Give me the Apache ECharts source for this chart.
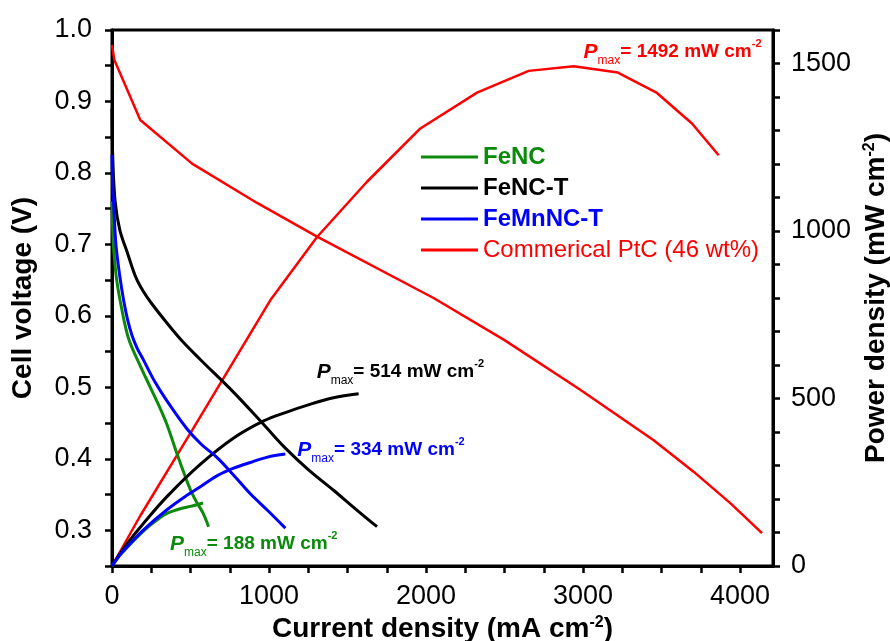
<!DOCTYPE html>
<html>
<head>
<meta charset="utf-8">
<script src="https://cdn.jsdelivr.net/npm/echarts@6/dist/echarts.min.js"></script>
<style>
  html, body { margin: 0; padding: 0; background: #fff; }
  #chart { width: 890px; height: 641px; }
</style>
</head>
<body>
<div id="chart"></div>
<script>
// Polarisation (cell voltage) and power-density curves of H2/O2 fuel cells.

// Axis ticks and labels
const currentTicks = [0, 250, 500, 750, 1000, 1250, 1500, 1750, 2000, 2250, 2500, 2750, 3000, 3250, 3500, 3750, 4000];
const currentLabels = [0, 1000, 2000, 3000, 4000];
const voltageTicks = [0.25, 0.3, 0.35, 0.4, 0.45, 0.5, 0.55, 0.6, 0.65, 0.7, 0.75, 0.8, 0.85, 0.9, 0.95, 1.0];
const voltageLabels = [0.3, 0.4, 0.5, 0.6, 0.7, 0.8, 0.9, 1.0];
const powerTicks = [0, 100, 200, 300, 400, 500, 600, 700, 800, 900, 1000, 1100, 1200, 1300, 1400, 1500, 1600];
const powerLabels = [0, 500, 1000, 1500];

// FeNC
const fencCurrentV = [0, 5, 12, 30, 60, 106, 180, 244, 308, 350, 414, 460, 499, 540, 580, 615];
const fencVoltage = [0.76, 0.72, 0.69, 0.65, 0.612, 0.568, 0.53, 0.5, 0.47, 0.448, 0.407, 0.379, 0.357, 0.339, 0.324, 0.305];
const fencCurrentP = [0, 30, 60, 106, 180, 244, 308, 350, 414, 460, 499, 540, 580];
const fencPower = [0, 20, 37, 60, 95, 122, 145, 157, 168, 174, 178, 183, 188];

// FeNC-T
const fenctCurrentV = [0, 5, 20, 50, 100, 150, 200, 250, 350, 450, 562, 775, 966, 1104, 1250, 1411, 1550, 1688];
const fenctVoltage = [0.89, 0.82, 0.76, 0.72, 0.687, 0.655, 0.634, 0.618, 0.59, 0.564, 0.539, 0.493, 0.448, 0.415, 0.385, 0.356, 0.33, 0.305];
const fenctCurrentP = [0, 50, 100, 200, 350, 562, 775, 966, 1104, 1250, 1411, 1571];
const fenctPower = [0, 36, 69, 127, 207, 303, 382, 433, 458, 481, 502, 514];

// FeMnNC-T
const femnCurrentV = [0, 5, 12, 25, 50, 74, 100, 127, 160, 201, 275, 350, 477, 570, 668, 775, 881, 990, 1104];
const femnVoltage = [0.825, 0.78, 0.75, 0.7, 0.655, 0.622, 0.594, 0.573, 0.555, 0.538, 0.507, 0.481, 0.442, 0.42, 0.402, 0.377, 0.351, 0.328, 0.303];
const femnCurrentP = [0, 50, 100, 201, 350, 477, 570, 668, 775, 881, 990, 1104];
const femnPower = [0, 33, 59, 108, 168, 211, 239, 269, 292, 309, 325, 334];

// Commercial Pt/C (46 wt%)
const ptcCurrentV = [0, 15, 180, 510, 924, 1306, 2048, 2500, 2980, 3450, 3704, 3938, 4140];
const ptcVoltage = [0.979, 0.958, 0.874, 0.813, 0.758, 0.711, 0.625, 0.566, 0.497, 0.426, 0.382, 0.338, 0.296];
const ptcCurrentP = [0, 180, 510, 1008, 1306, 1624, 1964, 2325, 2654, 2940, 3222, 3471, 3694, 3864];
const ptcPower = [0, 150, 405, 793, 982, 1147, 1306, 1413, 1478, 1492, 1473, 1412, 1321, 1226];

const FONT = '"Liberation Sans", Arial, sans-serif';
const GREEN = '#0c8a0c', BLACK = '#000000', BLUE = '#0000ff', RED = '#ff0000';

const zip = (xs, ys) => xs.map((x, i) => [x, ys[i]]);

// Pmax annotation placed next to the maximum of a power series
function pmaxMark(xs, ys, color, offset) {
  let k = 0;
  ys.forEach((v, i) => { if (v > ys[k]) k = i; });
  return {
    silent: true,
    symbol: 'circle',
    symbolSize: 0,
    data: [{ coord: [xs[k], ys[k]] }],
    label: {
      show: true,
      position: 'right',
      distance: 0,
      offset: offset,
      formatter: '{p|P}{s|max}{t|= ' + ys[k] + ' mW cm}{u|-2}',
      rich: {
        p: { fontFamily: FONT, fontSize: 21, fontWeight: 'bold', fontStyle: 'italic', color: color, verticalAlign: 'middle' },
        s: { fontFamily: FONT, fontSize: 12, color: color, verticalAlign: 'bottom', padding: [0, 0, -4, 0] },
        t: { fontFamily: FONT, fontSize: 19, fontWeight: 'bold', color: color, verticalAlign: 'middle' },
        u: { fontFamily: FONT, fontSize: 11, fontWeight: 'bold', color: color, verticalAlign: 'top', padding: [-3, 0, 0, 0] }
      }
    }
  };
}

function curve(name, data, color, width, yIdx, smooth, mark) {
  const s = {
    name: name,
    type: 'line',
    xAxisIndex: 0,
    yAxisIndex: yIdx,
    data: data,
    symbol: 'none',
    smooth: smooth,
    color: color,
    lineStyle: { color: color, width: width },
    z: 3
  };
  if (mark) s.markPoint = mark;
  return s;
}

const chart = echarts.init(document.getElementById('chart'), null, { renderer: 'canvas' });

const axisLineStyle = { show: true, onZero: false, lineStyle: { color: '#000', width: 3 } };
const tickStyle = { length: 7, inside: false, lineStyle: { color: '#000', width: 2.5 } };
const labelStyle = { color: '#000', fontFamily: FONT, fontSize: 27 };

chart.setOption({
  animation: false,
  backgroundColor: '#fff',
  grid: {
    left: 112, right: 117, top: 30, bottom: 75,
    show: true, borderColor: '#000', borderWidth: 3,
    containLabel: false, outerBoundsMode: 'none'
  },
  legend: {
    orient: 'vertical',
    left: 416,
    top: 140,
    itemWidth: 57,
    itemHeight: 3,
    itemGap: 7,
    icon: 'rect',
    textStyle: { fontFamily: FONT, fontSize: 24, lineHeight: 24 },
    data: [
      { name: 'FeNC', textStyle: { color: GREEN, fontWeight: 'bold' } },
      { name: 'FeNC-T', textStyle: { color: BLACK, fontWeight: 'bold' } },
      { name: 'FeMnNC-T', textStyle: { color: BLUE, fontWeight: 'bold' } },
      { name: 'Commerical PtC (46 wt%)', textStyle: { color: RED, fontWeight: 'normal' } }
    ]
  },
  xAxis: {
    type: 'value',
    min: 0,
    max: 4210,
    position: 'bottom',
    axisLine: axisLineStyle,
    axisTick: Object.assign({ customValues: currentTicks }, tickStyle),
    axisLabel: Object.assign({ customValues: currentLabels, margin: 17, formatter: v => String(v) }, labelStyle),
    splitLine: { show: false },
    name: '{b|Current density (mA cm}{u|-2}{b|)}',
    nameLocation: 'middle',
    nameGap: 45,
    nameTextStyle: {
      rich: {
        b: { fontFamily: FONT, fontSize: 28, fontWeight: 'bold', color: '#000', verticalAlign: 'middle' },
        u: { fontFamily: FONT, fontSize: 16, fontWeight: 'bold', color: '#000', verticalAlign: 'top' }
      }
    }
  },
  yAxis: [
    {
      type: 'value',
      min: 0.25,
      max: 1.0,
      position: 'left',
      axisLine: axisLineStyle,
      axisTick: Object.assign({ customValues: voltageTicks }, tickStyle),
      axisLabel: Object.assign({ customValues: voltageLabels, margin: 20, formatter: v => v.toFixed(1) }, labelStyle),
      splitLine: { show: false },
      name: 'Cell voltage (V)',
      nameLocation: 'middle',
      nameGap: 75,
      nameTextStyle: { fontFamily: FONT, fontSize: 28, fontWeight: 'bold', color: '#000' }
    },
    {
      type: 'value',
      min: 0,
      max: 1600,
      position: 'right',
      axisLine: axisLineStyle,
      axisTick: Object.assign({ customValues: powerTicks }, tickStyle),
      axisLabel: Object.assign({ customValues: powerLabels, margin: 18, formatter: v => String(v) }, labelStyle),
      splitLine: { show: false },
      name: '{b|Power density (mW cm}{u|-2}{b|)}',
      nameLocation: 'middle',
      nameRotate: 90,
      nameGap: 78,
      nameTextStyle: {
        rich: {
          b: { fontFamily: FONT, fontSize: 28, fontWeight: 'bold', color: '#000', verticalAlign: 'middle' },
          u: { fontFamily: FONT, fontSize: 16, fontWeight: 'bold', color: '#000', verticalAlign: 'top' }
        }
      }
    }
  ],
  series: [
    curve('Commerical PtC (46 wt%)', zip(ptcCurrentV, ptcVoltage), RED, 2.5, 0, false),
    curve('Commerical PtC (46 wt%)', zip(ptcCurrentP, ptcPower), RED, 2.5, 1, false,
      pmaxMark(ptcCurrentP, ptcPower, RED, [10, -14])),
    curve('FeNC', zip(fencCurrentV, fencVoltage), GREEN, 3, 0, 0.35),
    curve('FeNC', zip(fencCurrentP, fencPower), GREEN, 3, 1, 0.35,
      pmaxMark(fencCurrentP, fencPower, GREEN, [-33, 41])),
    curve('FeNC-T', zip(fenctCurrentV, fenctVoltage), BLACK, 3, 0, 0.35),
    curve('FeNC-T', zip(fenctCurrentP, fenctPower), BLACK, 3, 1, 0.35,
      pmaxMark(fenctCurrentP, fenctPower, BLACK, [-42, -22])),
    curve('FeMnNC-T', zip(femnCurrentV, femnVoltage), BLUE, 3, 0, 0.35),
    curve('FeMnNC-T', zip(femnCurrentP, femnPower), BLUE, 3, 1, 0.35,
      pmaxMark(femnCurrentP, femnPower, BLUE, [12, -4]))
  ]
});
</script>
</body>
</html>
